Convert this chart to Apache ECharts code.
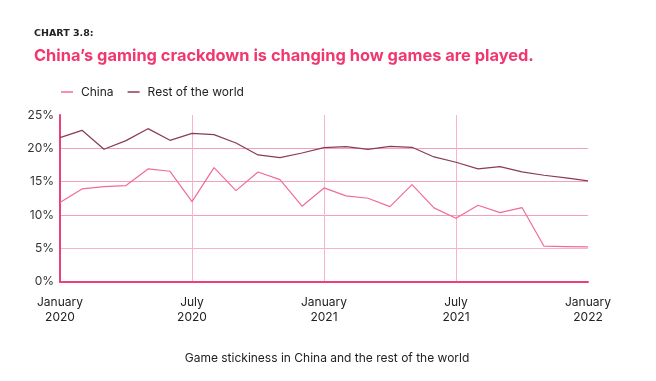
<!DOCTYPE html>
<html>
<head>
<meta charset="utf-8">
<script src="https://cdn.jsdelivr.net/npm/echarts@6/dist/echarts.min.js"></script>
<style>html,body{margin:0;padding:0;background:#fff;}#c{width:656px;height:381px;}</style>
</head>
<body>
<div id="c"></div>
<script>
const months = ['Jan 2020','Feb 2020','Mar 2020','Apr 2020','May 2020','Jun 2020','Jul 2020','Aug 2020','Sep 2020','Oct 2020','Nov 2020','Dec 2020',
  'Jan 2021','Feb 2021','Mar 2021','Apr 2021','May 2021','Jun 2021','Jul 2021','Aug 2021','Sep 2021','Oct 2021','Nov 2021','Dec 2021','Jan 2022'];
const tickLabels = {0:'January\n2020',6:'July\n2020',12:'January\n2021',18:'July\n2021',24:'January\n2022'};
const china = [11.85,13.9,14.25,14.4,16.9,16.55,12.0,17.1,13.65,16.45,15.3,11.3,
  14.05,12.85,12.5,11.25,14.55,11.05,9.5,11.45,10.35,11.1,5.3,5.25,5.2];
const restOfWorld = [21.6,22.7,19.85,21.15,22.95,21.2,22.25,22.05,20.8,19.0,18.6,19.3,
  20.1,20.25,19.85,20.3,20.15,18.7,17.9,16.9,17.25,16.45,15.95,15.55,15.1];

const font = 'Inter, Roboto, sans-serif';
const chart = echarts.init(document.getElementById('c'));
chart.setOption({
  animation: false,
  title: [
    {text: 'CHART 3.8:', left: 29, top: 24, textStyle: {fontFamily: '"DejaVu Sans", sans-serif', fontSize: 9.5, fontWeight: 'bold', color: '#222'}},
    {text: 'China\u2019s gaming crackdown is changing how games are played.', left: 29, top: 43, textStyle: {fontFamily: font, fontSize: 16.4, fontWeight: 'bold', color: '#f0386f'}},
    {text: 'Game stickiness in China and the rest of the world', left: 322, top: 347, textAlign: 'center', textStyle: {fontFamily: font, fontSize: 12, fontWeight: 'normal', color: '#222'}}
  ],
  legend: {
    left: 56, top: 81, itemWidth: 12, itemHeight: 1.5, itemGap: 14,
    icon: 'rect',
    textStyle: {fontFamily: font, fontSize: 12, color: '#222', padding: [0, 0, 0, 3]},
    data: [{name: 'China', itemStyle: {color: '#f06b9a'}}, {name: 'Rest of the world', itemStyle: {color: '#8a3a5a'}}]
  },
  grid: {left: 60, right: 68, top: 115, bottom: 99.5, containLabel: false},
  xAxis: {
    type: 'category', data: months, boundaryGap: false,
    axisLine: {lineStyle: {color: '#ec3f7f', width: 2}},
    axisTick: {show: false},
    axisLabel: {
      interval: 0, margin: 13, lineHeight: 15,
      fontFamily: font, fontSize: 12, color: '#222',
      formatter: (v, i) => tickLabels[i] || ''
    },
    splitLine: {show: true, interval: (i) => i === 6 || i === 12 || i === 18, lineStyle: {color: '#f7b3c9', width: 1}}
  },
  yAxis: {
    type: 'value', min: 0, max: 25, interval: 5,
    axisLine: {show: true, lineStyle: {color: '#ec3f7f', width: 2}},
    axisTick: {show: false},
    axisLabel: {fontFamily: font, fontSize: 12, color: '#333', margin: 6, formatter: '{value}%'},
    splitLine: {lineStyle: {color: ['#f7b3c9','#f7b3c9','#f4a0bb','#f4a0bb','#f4a0bb','rgba(0,0,0,0)'], width: 1}}
  },
  series: [
    {name: 'China', type: 'line', data: china, symbol: 'none', lineStyle: {color: '#f06b9a', width: 1.2}, itemStyle: {color: '#f06b9a'}},
    {name: 'Rest of the world', type: 'line', data: restOfWorld, symbol: 'none', lineStyle: {color: '#8a3a5a', width: 1.2}, itemStyle: {color: '#8a3a5a'}}
  ]
});
</script>
</body>
</html>
